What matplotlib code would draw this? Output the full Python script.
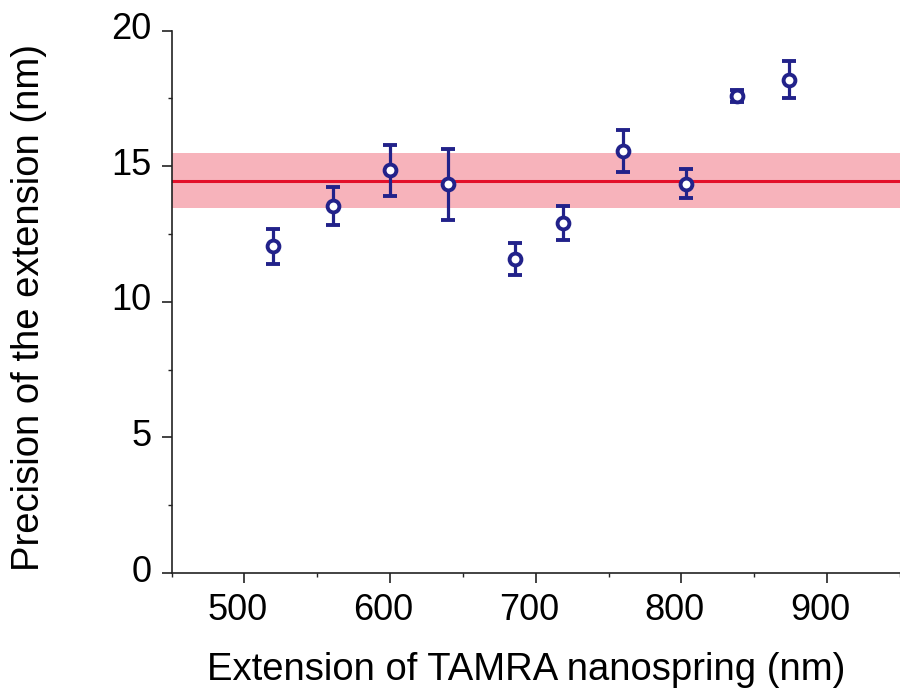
import matplotlib
matplotlib.use("Agg")
import matplotlib.pyplot as plt
from matplotlib.ticker import MultipleLocator
from matplotlib.transforms import ScaledTranslation

plt.rcParams['font.family'] = ['Liberation Sans', 'DejaVu Sans']

extension = [520, 561, 600, 640, 686, 719, 760, 803, 838, 874]
precision = [12.04, 13.53, 14.84, 14.33, 11.57, 12.90, 15.56, 14.35, 17.58, 18.19]
error = [0.64, 0.70, 0.93, 1.30, 0.60, 0.62, 0.76, 0.53, 0.23, 0.68]
mean_precision = 14.47
band_halfwidth = 1.02

fig = plt.figure(figsize=(9, 6.92), dpi=100)
ax = fig.add_axes([171.5 / 900, 119 / 692, 728.5 / 900, 542.5 / 692])

ax.axhspan(mean_precision - band_halfwidth, mean_precision + band_halfwidth,
           color='#f7b3bb', lw=0, zorder=1)
ax.axhline(mean_precision, color='#e3102a', lw=2.2, zorder=2)

ax.errorbar(extension, precision, yerr=error, fmt='o', color='#22228a',
            ecolor='#22228a', elinewidth=2.3, capsize=5, capthick=2.3,
            markersize=8.5, markerfacecolor='white', markeredgewidth=2.8, zorder=3)

ax.set_xlim(450, 950)
ax.set_ylim(0, 20)
ax.xaxis.set_major_locator(MultipleLocator(100))
ax.xaxis.set_minor_locator(MultipleLocator(50))
ax.yaxis.set_major_locator(MultipleLocator(5))
ax.yaxis.set_minor_locator(MultipleLocator(2.5))

for s in ['top', 'right']:
    ax.spines[s].set_visible(False)
for s in ['left', 'bottom']:
    ax.spines[s].set_linewidth(1.2)
    ax.spines[s].set_color('#222222')

ax.tick_params(which='major', direction='out', length=7.2, width=1.2,
               labelsize=26, colors='#222222', pad=7)
ax.tick_params(which='minor', direction='out', length=3, width=1.0, colors='#222222')
ax.tick_params(axis='both', labelcolor='black')

ax.set_xlabel('Extension of TAMRA nanospring (nm)', fontsize=27.5, va='center')
ax.xaxis.set_label_coords(0.487, -0.178)
ax.set_ylabel('Precision of the extension (nm)', fontsize=27.5, va='center')
ax.yaxis.set_label_coords(-0.1956, 0.489)

fig.canvas.draw()
dx = ScaledTranslation(-7 / 100, 0, fig.dpi_scale_trans)
dy = ScaledTranslation(0, 5 / 100, fig.dpi_scale_trans)
for t in ax.xaxis.get_major_ticks():
    t.label1.set_transform(t.label1.get_transform() + dx)
for t in ax.yaxis.get_major_ticks():
    t.label1.set_transform(t.label1.get_transform() + dy)

fig.savefig('out.png', dpi=100)
